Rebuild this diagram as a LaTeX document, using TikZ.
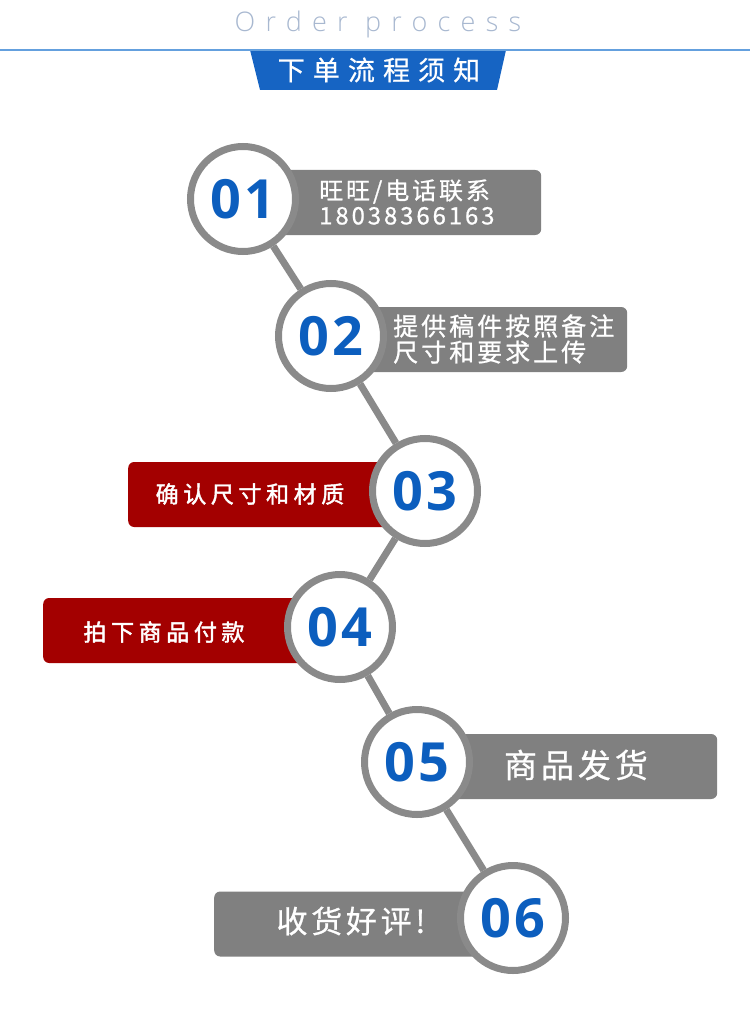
\documentclass[tikz,border=0pt]{standalone}
\usepackage{fontspec}
\setmainfont{Open Sans}
\newfontfamily\numfont[LetterSpace=6]{Open Sans}
\newfontfamily\cjk[LetterSpace=12,FakeBold=0.8]{Noto Sans CJK SC}
\newfontfamily\cjkb[LetterSpace=20,FakeBold=1.8]{Noto Sans CJK SC}
\newfontfamily\cjkt[LetterSpace=30,FakeBold=0.6]{Noto Sans CJK SC}
\newfontfamily\thinfont[LetterSpace=38]{Open Sans Light}
\definecolor{ringgray}{RGB}{138,138,138}
\definecolor{boxgray}{RGB}{128,128,128}
\definecolor{boxred}{RGB}{163,0,0}
\definecolor{numblue}{RGB}{12,94,190}
\definecolor{headblue}{RGB}{22,100,195}
\definecolor{lineblue}{RGB}{100,160,222}
\definecolor{titlegray}{RGB}{168,184,208}

\begin{document}
\begin{tikzpicture}[x=1pt, y=-1pt,
		stepring/.style={circle, draw=ringgray, line width=7pt, fill=white, minimum size=105pt, inner sep=0pt, font=\numfont\bfseries\fontsize{54}{54}\selectfont, text=numblue},
		graybox/.style={rectangle, rounded corners=6pt, fill=boxgray, minimum height=65pt},
		redbox/.style={rectangle, rounded corners=6pt, fill=boxred, minimum height=65pt},
		link/.style={ringgray, line width=7pt}]
		\useasboundingbox (0, 0) rectangle (750, 1019);
		%\draw[gray, dotted] (0, 0) grid[step=50] (750, 1019);
		\fill[headblue] (250, 50) -- (506, 50) -- (497, 90) -- (260, 90) -- cycle;
		\draw[lineblue, line width=2pt] (0, 50) -- (750, 50);
		\node[text=titlegray, font=\thinfont\fontsize{27}{27}\selectfont] (eng) at (378, 24) {Order process};
		\node[text=white, font=\cjkt\fontsize{27}{27}\selectfont] (title) at (379, 70) {下单流程须知};
		\node[graybox, minimum width=281pt, anchor=west] (b1) at (260, 202.5) {};
		\node[graybox, minimum width=277pt, anchor=west] (b2) at (350, 339.5) {};
		\node[redbox, minimum width=312pt, anchor=west] (b3) at (128, 494.5) {};
		\node[redbox, minimum width=307pt, anchor=west] (b4) at (43, 630.5) {};
		\node[graybox, minimum width=317pt, anchor=west] (b5) at (400, 766.5) {};
		\node[graybox, minimum width=306pt, anchor=west] (b6) at (214, 924) {};
		\node[text=white, font=\cjk\fontsize{24}{25}\selectfont, align=left, anchor=west, inner sep=0pt] (t1) at (319, 202) {旺旺/电话联系\\18038366163};
		\node[text=white, font=\cjk\fontsize{25}{26}\selectfont, align=left, anchor=west, inner sep=0pt] (t2) at (393, 339) {提供稿件按照备注\\尺寸和要求上传};
		\node[text=white, font=\cjkb\fontsize{23}{23}\selectfont] (t3) at (250, 494) {确认尺寸和材质};
		\node[text=white, font=\cjkb\fontsize{23}{23}\selectfont] (t4) at (164, 632) {拍下商品付款};
		\node[text=white, font=\cjk\fontsize{33}{33}\selectfont] (t5) at (576, 765) {商品发货};
		\node[text=white, font=\cjk\fontsize{31}{31}\selectfont] (t6) at (351, 921) {收货好评!};
		\node[stepring] (c1) at (243, 199) {01};
		\node[stepring] (c2) at (331, 336) {02};
		\node[stepring] (c3) at (425, 491) {03};
		\node[stepring] (c4) at (340, 627) {04};
		\node[stepring] (c5) at (417, 762) {05};
		\node[stepring] (c6) at (513, 918) {06};
		\draw[link] (c1) -- (c2); \draw[link] (c2) -- (c3); \draw[link] (c3) -- (c4);
		\draw[link] (c4) -- (c5); \draw[link] (c5) -- (c6);
	\end{tikzpicture}
\end{document}
